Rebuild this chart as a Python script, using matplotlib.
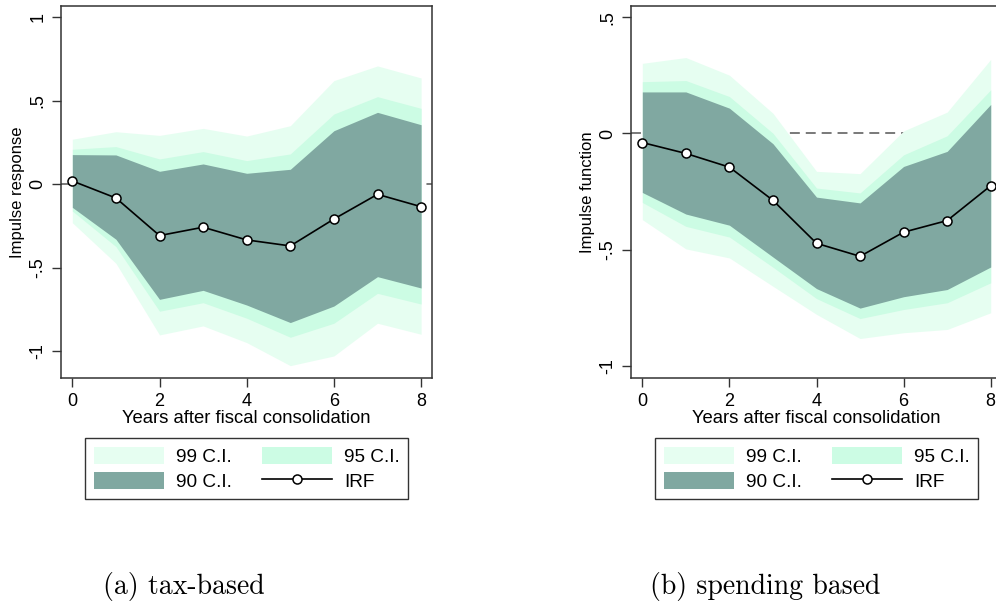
import matplotlib
matplotlib.use("Agg")
import matplotlib.pyplot as plt
from matplotlib.patches import Patch
from matplotlib.lines import Line2D

plt.rcParams['font.family'] = ['Liberation Sans', 'DejaVu Sans']

years = [0, 1, 2, 3, 4, 5, 6, 7, 8]

# (a) tax-based consolidations
tax_irf = [0.02, -0.082, -0.307, -0.257, -0.333, -0.369, -0.208, -0.06, -0.134]
tax_up99 = [0.27, 0.315, 0.293, 0.335, 0.289, 0.351, 0.621, 0.709, 0.637]
tax_up95 = [0.21, 0.226, 0.152, 0.196, 0.142, 0.182, 0.421, 0.525, 0.455]
tax_up90 = [0.178, 0.176, 0.078, 0.122, 0.066, 0.09, 0.321, 0.431, 0.357]
tax_lo90 = [-0.138, -0.329, -0.689, -0.635, -0.723, -0.828, -0.729, -0.553, -0.621]
tax_lo95 = [-0.16, -0.373, -0.760, -0.709, -0.802, -0.916, -0.832, -0.653, -0.717]
tax_lo99 = [-0.23, -0.473, -0.902, -0.848, -0.948, -1.086, -1.028, -0.832, -0.898]

# (b) spending-based consolidations
spd_irf = [-0.039, -0.086, -0.145, -0.288, -0.473, -0.529, -0.425, -0.375, -0.225]
spd_up99 = [0.302, 0.327, 0.251, 0.087, -0.163, -0.173, 0.011, 0.092, 0.319]
spd_up95 = [0.223, 0.228, 0.159, 0.001, -0.235, -0.256, -0.092, -0.01, 0.188]
spd_up90 = [0.179, 0.179, 0.109, -0.044, -0.274, -0.299, -0.142, -0.077, 0.125]
spd_lo90 = [-0.254, -0.347, -0.395, -0.532, -0.668, -0.752, -0.703, -0.672, -0.575]
spd_lo95 = [-0.297, -0.4, -0.446, -0.576, -0.711, -0.797, -0.758, -0.729, -0.643]
spd_lo99 = [-0.371, -0.497, -0.536, -0.658, -0.779, -0.883, -0.858, -0.844, -0.772]

tax_yticks = [1, 0.5, 0, -0.5, -1]
tax_ylabels = ["1", ".5", "0", "-.5", "-1"]
spd_yticks = [0.5, 0, -0.5, -1]
spd_ylabels = [".5", "0", "-.5", "-1"]
xticks = [0, 2, 4, 6, 8]

c99 = "#e6fef1"
c95 = "#ccfce4"
c90 = "#80a8a1"

W, H = 996, 604
fig = plt.figure(figsize=(W / 100, H / 100), dpi=100)


def px_axes(left, top, right, bottom):
    return fig.add_axes([left / W, 1 - bottom / H, (right - left) / W, (bottom - top) / H])


def panel(ax, irf, u99, u95, u90, l90, l95, l99, yt, yl, ylim, ylabel):
    ax.axhline(0, color="#555555", lw=1.1, ls=(0, (6.5, 3.9)), zorder=0.5)
    ax.fill_between(years, l99, u99, color=c99, lw=0, zorder=1)
    ax.fill_between(years, l95, u95, color=c95, lw=0, zorder=2)
    ax.fill_between(years, l90, u90, color=c90, lw=0, zorder=3)
    ax.plot(years, irf, color="black", lw=1.2, marker="o", ms=6.5,
            mfc="white", mec="black", mew=1.1, zorder=4)
    ax.set_xlim(-0.26, 8.25)
    ax.set_ylim(*ylim)
    ax.set_xticks(xticks)
    ax.set_xticklabels([str(t) for t in xticks])
    ax.set_yticks(yt)
    ax.set_yticklabels(yl, rotation=90, va="center")
    ax.tick_params(axis="both", length=6.5, width=1.0, color="#333333",
                   labelsize=13, pad=4)
    for s in ax.spines.values():
        s.set_color("#333333")
        s.set_linewidth(1.1)
    ax.set_xlabel("Years after fiscal consolidation", fontsize=13.3, labelpad=0)
    ax.set_ylabel(ylabel, fontsize=12, labelpad=3)


ax1 = px_axes(61, 6, 432, 378)
panel(ax1, tax_irf, tax_up99, tax_up95, tax_up90, tax_lo90, tax_lo95, tax_lo99,
      tax_yticks, tax_ylabels, (-1.16, 1.068), "Impulse response")

ax2 = px_axes(631, 6, 1001.6, 378)
panel(ax2, spd_irf, spd_up99, spd_up95, spd_up90, spd_lo90, spd_lo95, spd_lo99,
      spd_yticks, spd_ylabels, (-1.053, 0.549), "Impulse function")

handles = [
    Patch(facecolor=c99, edgecolor="none", label="99 C.I."),
    Patch(facecolor=c90, edgecolor="none", label="90 C.I."),
    Patch(facecolor=c95, edgecolor="none", label="95 C.I."),
    Line2D([0], [0], color="black", lw=1.2, marker="o", ms=6.5, mfc="white",
           mec="black", mew=1.1, label="IRF"),
]


def add_legend(cx, cy):
    leg = fig.legend(handles=handles, loc="center", ncol=2,
                     bbox_to_anchor=(cx / W, 1 - cy / H),
                     fontsize=13.7, handlelength=3.7, handleheight=1.0,
                     handletextpad=0.6, columnspacing=1.6, labelspacing=0.3,
                     borderpad=0.45, fancybox=False, frameon=True)
    fr = leg.get_frame()
    fr.set_edgecolor("black")
    fr.set_linewidth(1.0)
    return leg


add_legend(246.7, 468.7)
add_legend(816.7, 468.7)

fig.text(184 / W, 1 - 594 / H, "(a) tax-based", family="cmr10", fontsize=20,
         ha="center", va="baseline")
fig.text(765 / W, 1 - 594 / H, "(b) spending based", family="cmr10", fontsize=20,
         ha="center", va="baseline")

fig.savefig("out.png", dpi=100)
